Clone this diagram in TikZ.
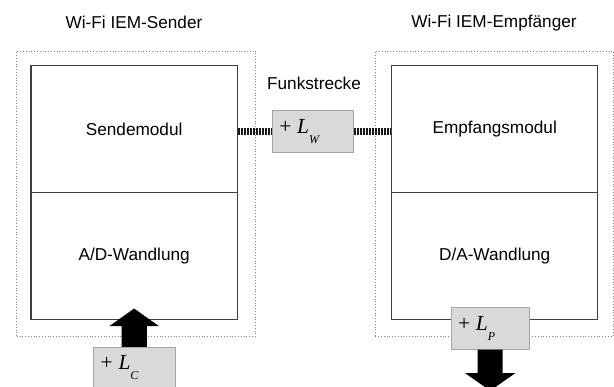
\documentclass[tikz,border=0pt]{standalone}
\usepackage{fontspec}
\setmainfont{Liberation Sans}
\newfontfamily\tnr{Liberation Serif}
\usetikzlibrary{calc}
\definecolor{boxc}{HTML}{404040}
\definecolor{dotc}{HTML}{7F7F7F}
\definecolor{lfill}{HTML}{D9D9D9}
\definecolor{ledge}{HTML}{A6A6A6}
\newcommand{\lossl}[1]{{\tnr\fontsize{21.5}{21.5}\selectfont + \textit{L}\raisebox{-10pt}{\fontsize{12}{12}\selectfont\textit{#1}}}}
\begin{document}
\begin{tikzpicture}[x=1pt,y=-1pt,
  every node/.style={font=\fontsize{17.2}{20}\selectfont},
  outerbox/.style={draw=dotc, dotted, line width=0.8pt, minimum width=239pt, minimum height=285pt, inner sep=0pt},
  mod/.style={draw=boxc, line width=1.2pt, minimum width=206.3pt, minimum height=127pt, inner sep=0pt},
  lbox/.style={draw=ledge, fill=lfill, line width=0.8pt, inner xsep=7pt, inner ysep=0pt, text width=67pt, align=left, minimum height=41.5pt},
  radio/.style={draw=black!90, line width=6.4pt, dash pattern=on 2pt off 1pt},
  blockarrow/.style={fill=black}]
\useasboundingbox (0,0) rectangle (614,387);
% outer dotted frames
\node[outerbox] (sender) at (136.2,193.5) {};
\node[outerbox, minimum width=237.7pt] (empf) at (494.15,193.5) {};
% titles
\node (t1) at (134,22.7) {Wi-Fi IEM-Sender};
\node (t2) at (494,22.7) {Wi-Fi IEM-Empfänger};
\node (funk) at (314,83) {Funkstrecke};
% modules
\node[mod] (send) at (134.15,129.2) {Sendemodul};
\node[mod] (ad) at (134.15,256.35) {A/D-Wandlung};
\node[mod] (emp) at (494.7,129.2) {Empfangsmodul};
\node[mod] (da) at (494.7,256.35) {D/A-Wandlung};
% loss boxes
\node[lbox] (LW) at (312.8,131.5) {\lossl{W}};
\node[lbox, minimum width=81.7pt] (LC) at (134.15,368) {\lossl{C}};
\node[lbox, text width=64.3pt] (LP) at (490.2,328.5) {\lossl{P}};
% radio link
\draw[radio] (LW.west -| send.east) -- (LW.west);
\draw[radio] (LW.east) -- (LW.east -| emp.west);
% block arrows
\fill[blockarrow, shift={(LC.north)}] (-12.6,0) -- (-12.6,-20.6) -- (-25,-20.6) -- (0,-38.3) -- (25,-20.6) -- (12.6,-20.6) -- (12.6,0) -- cycle;
\fill[blockarrow, shift={(LP.south)}] (-12.5,0) -- (-12.5,23.4) -- (-25.2,23.4) -- (0,41.1) -- (25.2,23.4) -- (12.5,23.4) -- (12.5,0) -- cycle;
\end{tikzpicture}
\end{document}
